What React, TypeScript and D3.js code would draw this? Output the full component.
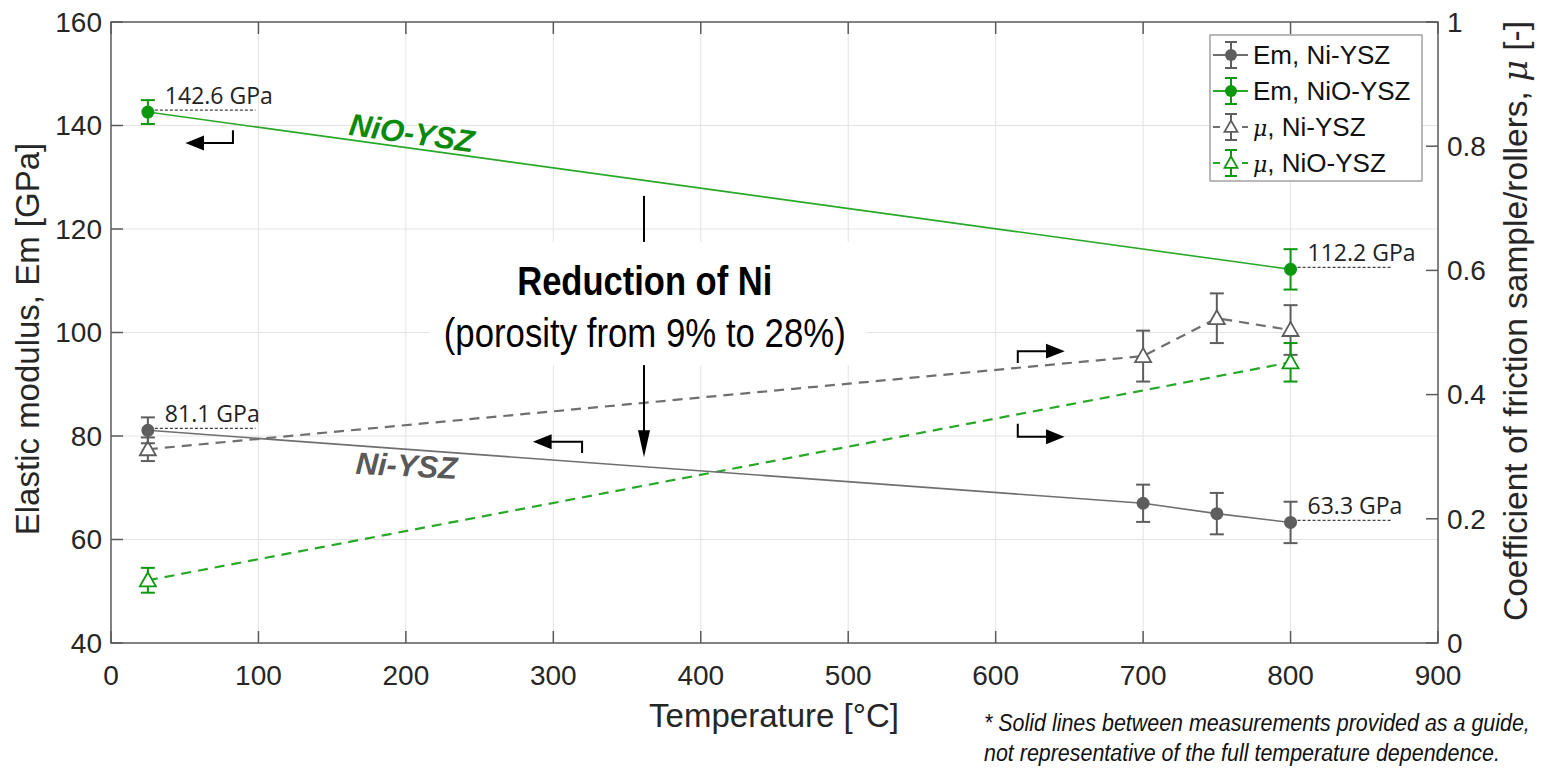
import React, { useLayoutEffect, useRef, useState } from 'react';
import * as d3 from 'd3';

// measured points
const tempNi = [25, 700, 750, 800];
const emNi = [81.1, 67.0, 65.0, 63.3];
const emNiErr = [2.5, 3.6, 4.0, 4.0];
const muNi = [0.312, 0.462, 0.523, 0.504];
const muNiErr = [0.019, 0.041, 0.04, 0.04];

const tempNiO = [25, 800];
const emNiO = [142.6, 112.2];
const emNiOErr = [2.3, 3.9];
const muNiO = [0.101, 0.452];
const muNiOErr = [0.02, 0.031];

const xTicks = [0, 100, 200, 300, 400, 500, 600, 700, 800, 900];
const yTicks = [40, 60, 80, 100, 120, 140, 160];
const y2Ticks = [0, 0.2, 0.4, 0.6, 0.8, 1];
const y2Labels = ['0', '0.2', '0.4', '0.6', '0.8', '1'];

const GRAY = '#5e5e5e';
const GRAY_LINE = '#6f6f6f';
const GREEN = '#0c980c';
const GREEN_LINE = '#27a827';
const AXIS = '#5a5a5a';
const TXT = '#262626';

const W = 1541, H = 770;
const margin = { top: 22, right: 103, bottom: 127, left: 111 };

const x = d3.scaleLinear().domain([0, 900]).range([margin.left, W - margin.right]);
const y = d3.scaleLinear().domain([40, 160]).range([H - margin.bottom, margin.top]);
const y2 = d3.scaleLinear().domain([0, 1]).range([H - margin.bottom, margin.top]);

function ErrBar({ cx, y0, y1, color, w = 7 }) {
  return (
    <g stroke={color} strokeWidth={2}>
      <line x1={cx} x2={cx} y1={y0} y2={y1} />
      <line x1={cx - w} x2={cx + w} y1={y0} y2={y0} />
      <line x1={cx - w} x2={cx + w} y1={y1} y2={y1} />
    </g>
  );
}

function Tri({ cx, cy, color, s = 8 }) {
  const pts = [[cx, cy - s], [cx - s, cy + s * 0.75], [cx + s, cy + s * 0.75]];
  return <polygon points={pts.map(p => p.join(',')).join(' ')} fill="white" stroke={color} strokeWidth={1.8} />;
}

function Head({ x0, y0, dir }) {
  // dir: 'left' | 'right' | 'down'
  const L = 15, h = 6;
  let pts;
  if (dir === 'left') pts = [[x0, y0], [x0 + L, y0 - h], [x0 + L, y0 + h]];
  else if (dir === 'right') pts = [[x0, y0], [x0 - L, y0 - h], [x0 - L, y0 + h]];
  else pts = [[x0, y0], [x0 - h, y0 - L * 1.8], [x0 + h, y0 - L * 1.8]];
  return <polygon points={pts.map(p => p.join(',')).join(' ')} fill="black" />;
}

// hooked arrow: vertical stub then horizontal with head
function Hook({ xa, xb, yy, yh, dir }) {
  const tip = dir === 'left' ? xa : xb;
  const tail = dir === 'left' ? xb : xa;
  return (
    <g stroke="black" strokeWidth={2} fill="none">
      <path d={`M${tail},${yh}V${yy}H${dir === 'left' ? tip + 10 : tip - 10}`} />
      <Head x0={tip} y0={yy} dir={dir} />
    </g>
  );
}

// text squeezed horizontally to a target width
function FitText({ x0, y0, width, children, ...rest }) {
  const ref = useRef<SVGTextElement>(null);
  const [sx, setSx] = useState(1);
  useLayoutEffect(() => {
    if (ref.current) {
      const w = ref.current.getComputedTextLength();
      if (w > 0) setSx(width / w);
    }
  }, [width]);
  return (
    <text ref={ref} transform={`translate(${x0},${y0}) scale(${sx},1)`} {...rest}>{children}</text>
  );
}

export default function App() {
  const lineEm = d3.line<[number, number]>().x(d => x(d[0])).y(d => y(d[1]));
  const lineMu = d3.line<[number, number]>().x(d => x(d[0])).y(d => y2(d[1]));
  const bottom = H - margin.bottom;
  const right = W - margin.right;
  const font = 'Liberation Sans, Arial, sans-serif';
  const narrow = 'Liberation Sans Narrow, Arial Narrow, Liberation Sans, sans-serif';

  const legendItems = [
    { label: 'Em, Ni-YSZ', color: GRAY, lc: GRAY_LINE, mu: false, dash: false },
    { label: 'Em, NiO-YSZ', color: GREEN, lc: GREEN_LINE, mu: false, dash: false },
    { label: ', Ni-YSZ', color: GRAY, lc: GRAY_LINE, mu: true, dash: true },
    { label: ', NiO-YSZ', color: GREEN, lc: GREEN_LINE, mu: true, dash: true },
  ];

  return (
    <svg width={W} height={H} style={{ position: 'absolute', left: 0, top: 0, background: 'white' }} fontFamily={font}>
      {/* grid */}
      <g stroke="#e3e3e3" strokeWidth={1}>
        {xTicks.slice(1, -1).map(t => <line key={'gx' + t} x1={x(t)} x2={x(t)} y1={margin.top} y2={bottom} />)}
        {yTicks.slice(1, -1).map(t => <line key={'gy' + t} x1={margin.left} x2={right} y1={y(t)} y2={y(t)} />)}
      </g>

      {/* annotation box background */}
      <rect x={x(216)} y={y(117.5)} width={x(512) - x(216)} height={y(93.7) - y(117.5)} fill="white" />

      {/* axes box & ticks */}
      <rect x={margin.left} y={margin.top} width={right - margin.left} height={bottom - margin.top} fill="none" stroke={AXIS} strokeWidth={1.5} />
      <g stroke={AXIS} strokeWidth={1.5}>
        {xTicks.map(t => (
          <g key={'tx' + t}>
            <line x1={x(t)} x2={x(t)} y1={bottom} y2={bottom - 12} />
            <line x1={x(t)} x2={x(t)} y1={margin.top} y2={margin.top + 12} />
          </g>
        ))}
        {yTicks.map(t => <line key={'ty' + t} x1={margin.left} x2={margin.left + 12} y1={y(t)} y2={y(t)} />)}
        {y2Ticks.map(t => <line key={'ty2' + t} x1={right} x2={right - 12} y1={y2(t)} y2={y2(t)} />)}
      </g>
      <g fill={TXT} fontSize={28}>
        {xTicks.map(t => <text key={'lx' + t} x={x(t)} y={bottom + 42} textAnchor="middle">{t}</text>)}
        {yTicks.map(t => <text key={'ly' + t} x={margin.left - 9} y={y(t)} dy="0.35em" textAnchor="end">{t}</text>)}
        {y2Ticks.map((t, i) => <text key={'ly2' + t} x={right + 9} y={y2(t)} dy="0.35em">{y2Labels[i]}</text>)}
      </g>
      <text x={774} y={bottom + 84} textAnchor="middle" fontSize={33} fill={TXT}>Temperature [°C]</text>
      <text transform={`translate(39,339) rotate(-90)`} textAnchor="middle" fontSize={33} fill={TXT}>Elastic modulus, Em [GPa]</text>
      <text transform={`translate(1527,321) rotate(-90)`} textAnchor="middle" fontSize={33} fill={TXT} textLength={600} lengthAdjust="spacingAndGlyphs">
        Coefficient of friction sample/rollers, <tspan fontStyle="italic" fontFamily="DejaVu Serif, serif">μ</tspan> [-]
      </text>

      {/* series lines */}
      <path d={lineMu(tempNi.map((t, i) => [t, muNi[i]]))} fill="none" stroke={GRAY_LINE} strokeWidth={2.2} strokeDasharray="10,7" />
      <path d={lineMu(tempNiO.map((t, i) => [t, muNiO[i]]))} fill="none" stroke={GREEN_LINE} strokeWidth={2.2} strokeDasharray="10,7" />
      <path d={lineEm(tempNi.map((t, i) => [t, emNi[i]]))} fill="none" stroke={GRAY_LINE} strokeWidth={1.6} />
      <path d={lineEm(tempNiO.map((t, i) => [t, emNiO[i]]))} fill="none" stroke={GREEN_LINE} strokeWidth={1.6} />

      {/* error bars + markers */}
      {tempNi.map((t, i) => (
        <g key={'mn' + i}>
          <ErrBar cx={x(t)} y0={y2(muNi[i] + muNiErr[i])} y1={y2(muNi[i] - muNiErr[i])} color={GRAY} />
          <Tri cx={x(t)} cy={y2(muNi[i])} color={GRAY} />
        </g>
      ))}
      {tempNiO.map((t, i) => (
        <g key={'mo' + i}>
          <ErrBar cx={x(t)} y0={y2(muNiO[i] + muNiOErr[i])} y1={y2(muNiO[i] - muNiOErr[i])} color={GREEN} />
          <Tri cx={x(t)} cy={y2(muNiO[i])} color={GREEN} />
        </g>
      ))}
      {tempNi.map((t, i) => (
        <g key={'en' + i}>
          <ErrBar cx={x(t)} y0={y(emNi[i] + emNiErr[i])} y1={y(emNi[i] - emNiErr[i])} color={GRAY} />
          <circle cx={x(t)} cy={y(emNi[i])} r={6.5} fill={GRAY} />
        </g>
      ))}
      {tempNiO.map((t, i) => (
        <g key={'eo' + i}>
          <ErrBar cx={x(t)} y0={y(emNiO[i] + emNiOErr[i])} y1={y(emNiO[i] - emNiOErr[i])} color={GREEN} />
          <circle cx={x(t)} cy={y(emNiO[i])} r={6.5} fill={GREEN} />
        </g>
      ))}

      {/* value labels with dotted leaders */}
      {[
        { t: tempNiO[0], v: emNiO[0], x2: 98 },
        { t: tempNi[0], v: emNi[0], x2: 98 },
        { t: tempNiO[1], v: emNiO[1], x2: 868 },
        { t: tempNi[3], v: emNi[3], x2: 868 },
      ].map((d, i) => (
        <g key={'val' + i}>
          <line x1={x(d.t) + 7} x2={x(d.x2)} y1={y(d.v) - 2} y2={y(d.v) - 2} stroke="#444" strokeWidth={1.2} strokeDasharray="3,2" />
          <text x={x(d.t) + 17} y={y(d.v) - 8} fontSize={23} fontFamily="Open Sans, sans-serif" fill="#222">{d.v.toFixed(1)} GPa</text>
        </g>
      ))}

      {/* material labels */}
      <text transform={`translate(${x(203)},${y(136.5)}) rotate(8)`} textAnchor="middle" fontSize={31} fontWeight="bold" fontStyle="italic" fill="#0a8a0a">NiO-YSZ</text>
      <text transform={`translate(${x(200)},${y(72.2)}) rotate(3)`} textAnchor="middle" fontSize={31} fontWeight="bold" fontStyle="italic" fill="#595959">Ni-YSZ</text>

      {/* reduction annotation */}
      <text x={x(362)} y={y(107.3)} textAnchor="middle" fontSize={40} fontWeight="bold" fontFamily={narrow} fill="black" textLength={255} lengthAdjust="spacingAndGlyphs">Reduction of Ni</text>
      <text x={x(362)} y={y(97.2)} textAnchor="middle" fontSize={40} fontFamily={narrow} fill="black" textLength={402} lengthAdjust="spacingAndGlyphs">(porosity from 9% to 28%)</text>
      <line x1={x(361.5)} x2={x(361.5)} y1={y(126.4)} y2={y(117.5)} stroke="black" strokeWidth={2} />
      <line x1={x(361.5)} x2={x(361.5)} y1={y(93.7)} y2={y(78)} stroke="black" strokeWidth={2} />
      <Head x0={x(361.5)} y0={y(75.9)} dir="down" />

      {/* axis hook arrows */}
      <Hook xa={x(52.2)} xb={x(82.7)} yy={y(136.6)} yh={y(139.1)} dir="left" />
      <Hook xa={x(288)} xb={x(319.5)} yy={y(78.9)} yh={y(76.7)} dir="left" />
      <Hook xa={x(615)} xb={x(645)} yy={y2(0.47)} yh={y2(0.451)} dir="right" />
      <Hook xa={x(615)} xb={x(645)} yy={y2(0.332)} yh={y2(0.353)} dir="right" />

      {/* legend */}
      <g transform="translate(1210,35)">
        <rect width={212} height={146} fill="white" stroke="#8a8a8a" strokeWidth={1.2} />
        {legendItems.map((d, i) => {
          const cy = 20 + i * 36;
          return (
            <g key={'lg' + i} transform={`translate(0,${cy})`}>
              <line x1={3} x2={38} y1={0} y2={0} stroke={d.lc} strokeWidth={2} strokeDasharray={d.dash ? '7,22' : undefined} />
              {d.dash && <line x1={32} x2={38} y1={0} y2={0} stroke={d.lc} strokeWidth={2} />}
              <ErrBar cx={21} y0={-13} y1={13} color={d.color} w={6} />
              {d.mu ? <Tri cx={21} cy={0} color={d.color} s={6.5} /> : <circle cx={21} cy={0} r={6} fill={d.color} />}
              <text x={43} y={0} dy="0.36em" fontSize={26} fill="#111">
                {d.mu && <tspan fontStyle="italic" fontFamily="DejaVu Serif, serif" fontSize={22}>μ</tspan>}
                {d.label}
              </text>
            </g>
          );
        })}
      </g>

      {/* footnote */}
      <FitText x0={984} y0={731} width={546} fontSize={24} fontStyle="italic" fontFamily={narrow} fill="#111">* Solid lines between measurements provided as a guide,</FitText>
      <FitText x0={984} y0={761} width={516} fontSize={24} fontStyle="italic" fontFamily={narrow} fill="#111">not representative of the full temperature dependence.</FitText>
    </svg>
  );
}
